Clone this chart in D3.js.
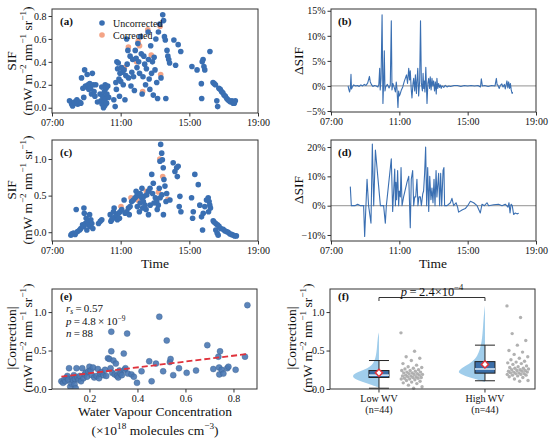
<!DOCTYPE html>
<html><head><meta charset="utf-8">
<script src="https://cdn.jsdelivr.net/npm/d3@7"></script>
<style>body{margin:0;background:#fff}svg{display:block;font-family:"Liberation Serif","Times New Roman",serif}</style>
</head><body><svg id="c" width="550" height="440"></svg>
<script>
// ---------- DATA ----------
const timeTicks = [7, 11, 15, 19];
// (a) SIF, site 1: [hour, SIF]
const aUncorrected = [
[8.02,0.06],[8.15,0.03],[8.2,0.015],[8.3,0.05],[8.38,0.04],[8.45,0.07],[8.5,0.03],[8.6,0.05],[8.68,0.04],[8.72,0.26],[8.8,0.17],[8.85,0.09],[8.9,0.33],[8.95,0.19],[9.0,0.18],[9.05,0.29],[9.1,0.2],[9.15,0.16],[9.2,0.21],[9.25,0.17],[9.3,0.12],[9.35,0.3],[9.4,0.2],[9.45,0.14],[9.5,0.1],[9.55,0.2],[9.65,0.05],
[9.8,0.12],[9.85,0.06],[9.9,0.18],[9.92,0.03],[9.95,0.1],[10.0,0.0],[10.02,0.05],[10.05,0.14],[10.08,0.02],[10.1,0.2],[10.12,0.08],[10.15,0.17],[10.18,0.04],[10.2,0.12],[10.25,0.19],[10.3,0.09],
[10.6,0.07],[10.68,0.01],[10.72,0.22],[10.75,0.16],[10.78,0.4],[10.82,0.34],[10.86,0.39],[10.9,0.25],[10.93,0.1],[10.96,0.3],[11.0,0.23],
[11.05,0.35],[11.1,0.31],[11.15,0.2],[11.2,0.33],[11.25,0.07],[11.3,0.28],[11.35,0.6],[11.38,0.38],[11.42,0.5],[11.46,0.26],[11.55,0.45],[11.6,0.19],[11.65,0.31],[11.7,0.42],[11.75,0.27],[11.8,0.15],
[11.85,0.5],[11.9,0.43],[11.95,0.35],[12.0,0.56],[12.05,0.4],[12.1,0.3],[12.15,0.62],[12.2,0.47],[12.25,0.12],[12.3,0.27],[12.35,0.45],[12.4,0.38],[12.45,0.2],[12.5,0.34],[12.6,0.66],[12.62,0.42],[12.66,0.25],[12.7,0.16],[12.75,0.54],[12.8,0.3],[12.85,0.4],[12.9,0.11],
[12.95,0.44],[13.0,0.33],[13.05,0.6],[13.1,0.22],[13.15,0.08],[13.2,0.66],[13.28,0.73],[13.35,0.26],[13.45,0.81],[13.5,0.76],[13.55,0.62],[13.6,0.59],[13.63,0.08],[13.7,0.5],[13.75,0.45],[13.8,0.42],[13.85,0.39],
[14.1,0.59],[14.2,0.37],[14.35,0.55],[14.5,0.49],
[15.15,0.36],[15.45,0.33],[15.7,0.21],[15.72,0.08],[15.75,0.4],[15.8,0.42],[15.85,0.36],[15.9,0.33],[16.2,0.49],
[16.38,0.22],[16.45,0.21],[16.52,0.2],[16.6,0.06],[16.65,0.01],[16.72,0.17],[16.8,0.16],[16.88,0.14],[16.95,0.13],[17.02,0.11],[17.1,0.1],[17.18,0.08],[17.25,0.07],[17.32,0.06],[17.4,0.05],[17.48,0.06],[17.55,0.04],[17.62,0.04],[17.68,0.06]
];
const aCorrected = [[11.45,0.53],[11.92,0.4],[12.1,0.54],[12.28,0.14],[12.58,0.68],[12.78,0.46],[13.33,0.29],[12.02,0.58],[13.3,0.71],[11.22,0.35]];
// (b) delta SIF (%), site 1: [hour, %]
const bDelta = [
[8.0,0],[8.05,-0.8],[8.09,-1.2],[8.13,-0.5],[8.17,2.3],[8.2,-0.6],[8.25,-0.2],[8.33,0.2],[8.45,0],[8.55,0.1],[8.65,-0.1],[8.75,0.2],[8.85,0],[8.95,0.3],[9.05,0.1],[9.15,0.6],[9.25,1.9],[9.3,0.8],[9.38,0.2],[9.45,-0.1],[9.55,0.1],[9.65,0],[9.75,-0.2],[9.8,0.3],[9.85,3.5],[9.88,-0.8],[9.93,1.5],[9.99,14.2],[10.04,-3.5],[10.08,0.5],[10.12,7],[10.16,-1],[10.2,-0.2],[10.3,0.3],[10.4,-0.4],[10.47,0.2],[10.53,13],[10.57,-0.8],[10.62,0.5],[10.7,-0.3],[10.77,-1.2],[10.82,0.8],[10.86,-0.5],[10.92,-4.3],[10.96,-1],[11.0,-2],[11.06,-1.5],[11.12,-0.8],[11.2,-0.2],[11.28,0.8],[11.35,1.5],[11.42,2.2],[11.48,0.5],[11.55,3.5],[11.6,1.2],[11.64,3],[11.7,-0.8],[11.74,-2.4],[11.8,0.5],[11.84,1.5],[11.9,-1],[11.94,2.2],[12.0,-1.5],[12.03,0.8],[12.08,3.5],[12.13,-2],[12.19,1],[12.24,13],[12.29,0.5],[12.35,-1],[12.39,2.5],[12.43,-0.5],[12.46,1],[12.5,-1.2],[12.55,3.7],[12.62,-3.5],[12.67,0.5],[12.72,1.5],[12.77,-0.5],[12.81,1.8],[12.86,-0.8],[12.91,1.5],[12.96,0],[13.01,1],[13.06,-1],[13.11,0.8],[13.16,-1.6],[13.2,1.5],[13.25,-0.5],[13.3,0.5],[13.35,-0.3],[13.4,0.2],[13.45,-0.5],[13.5,0],[13.6,-0.3],[13.69,0.1],[13.79,-0.2],[13.9,0],[14.0,-0.1],[14.2,0.1],[14.4,0.1],[14.6,-0.1],[14.8,0.1],[15.0,0],[15.2,0.1],[15.4,0],[15.6,0.1],[15.75,-0.2],[15.8,1.4],[15.86,0],[16.0,0.1],[16.2,-0.1],[16.4,0.1],[16.6,0],[16.68,1.5],[16.72,0.3],[16.76,0.2],[16.85,-0.5],[16.91,0.1],[17.0,0.4],[17.07,-0.2],[17.15,0.3],[17.2,-0.6],[17.25,0.2],[17.3,1],[17.35,-0.4],[17.4,0.8],[17.45,-0.5],[17.5,0.5],[17.55,-0.8],[17.6,-1.5],[17.63,-1.2]
];
// (c) SIF, site 2
const cUncorrected = [
[8.1,-0.04],[8.16,-0.02],[8.26,-0.01],[8.35,-0.03],[8.41,0.31],[8.49,0.01],[8.61,0.03],[8.68,0.05],[8.78,0.1],[8.84,0.08],[8.86,0.33],[8.88,0.26],[8.94,0.12],[8.99,0.19],[9.03,0.03],[9.07,0.15],[9.13,0.1],[9.19,0.24],[9.23,0.08],[9.26,0.17],[9.32,0.12],[9.38,0.05],
[9.71,0.12],[9.81,0.15],[9.9,0.17],
[10.39,0.24],[10.43,0.15],[10.48,0.17],[10.54,0.19],[10.58,0.28],[10.62,0.33],[10.68,0.21],[10.77,0.24],[10.81,0.17],[10.87,0.26],[10.93,0.19],[10.97,0.28],[11.06,0.31],
[11.2,0.44],[11.26,0.26],[11.35,0.28],[11.45,0.33],[11.5,0.24],[11.55,0.35],[11.64,0.42],[11.74,0.44],
[11.84,0.47],[11.9,0.56],[11.93,0.49],[11.97,0.35],[12.03,0.51],[12.09,0.28],[12.13,0.53],[12.14,0.4],[12.23,0.47],[12.24,0.6],[12.28,0.33],[12.32,0.42],[12.36,0.49],[12.42,0.37],[12.48,0.31],[12.52,0.51],[12.61,0.56],[12.62,0.24],[12.71,0.6],[12.72,0.37],[12.81,0.79],[12.86,0.53],[12.9,0.67],[12.94,0.4],
[13.02,0.47],[13.1,0.42],[13.13,0.31],[13.19,0.37],[13.25,0.6],[13.29,0.97],[13.3,0.47],[13.33,1.2],[13.39,1.08],[13.4,0.51],[13.43,0.99],[13.48,0.88],[13.49,0.24],[13.52,0.72],[13.58,0.63],[13.64,0.42],[13.68,0.53],
[13.87,0.44],[14.06,0.95],[14.16,0.83],[14.26,0.88],[14.3,0.76],[14.35,0.9],[14.41,0.35],[14.45,0.49],[14.51,0.28],
[15.13,0.47],[15.19,0.19],[15.23,0.28],[15.32,0.79],[15.52,0.65],[15.61,0.37],[15.71,0.21],[15.77,0.03],[15.81,0.26],[15.9,0.35],[16.0,0.44],[16.1,0.47],[16.12,0.28],[16.15,0.42],[16.19,0.37],[16.23,0.33],
[16.39,0.155],[16.44,0.14],[16.54,0.12],[16.54,0.03],[16.62,-0.01],[16.64,0.1],[16.68,-0.04],[16.73,0.08],[16.83,0.05],[16.97,0.04],[17.06,0.02],[17.16,0.01],[17.26,0.0],[17.35,-0.02],[17.45,-0.03],[17.55,-0.04],[17.64,-0.05],[17.74,-0.05]
];
const cCorrected = [[13.28,1.0],[13.45,0.76],[11.02,0.35],[12.05,0.43],[13.2,0.55],[12.5,0.56],[11.6,0.47],[13.75,0.45]];
// (d) delta SIF (%), site 2
const dDelta = [
[8.13,6.5],[8.19,0],[8.4,0],[8.56,0.5],[8.72,0],[8.91,0],[8.97,-10.5],[9.11,9],[9.2,0],[9.34,-6],[9.42,21],[9.5,0],[9.6,19],[9.89,0],[10.08,0],[10.18,-6],[10.24,0],[10.53,16],[10.61,-2],[10.73,12.5],[10.77,0],[10.8,8],[10.84,2],[10.9,12],[10.96,0],[11.0,5],[11.06,3],[11.1,13],[11.16,0],[11.25,3],[11.45,8],[11.55,10],[11.64,-7.5],[11.7,9],[11.78,12],[11.84,0],[11.9,3],[11.96,3],[12.03,9],[12.09,0],[12.15,3],[12.23,3],[12.29,0],[12.37,4],[12.42,5],[12.48,11],[12.54,20],[12.6,0],[12.66,13],[12.72,-2],[12.78,10],[12.85,2],[12.91,6],[12.97,1],[13.03,9],[13.09,0],[13.15,12],[13.2,3],[13.3,11],[13.36,0],[13.42,11],[13.48,0],[13.56,12],[13.61,13],[13.65,0],[13.79,0],[13.99,1],[14.08,2.5],[14.18,0],[14.32,1],[14.41,-0.5],[14.47,-2.2],[14.67,-1.5],[14.86,-1],[15.0,0],[15.16,1.5],[15.35,1],[15.55,0],[15.74,-2.5],[15.84,0.5],[15.98,0],[16.13,1],[16.23,0],[16.52,0.3],[16.81,0.5],[17.01,0],[17.2,0.5],[17.36,-0.5],[17.42,1],[17.48,-2.5],[17.54,0.5],[17.61,0],[17.69,-3],[17.79,-2.5],[17.89,-2.8],[17.99,-2.6]
];
// (e) |Correction| vs water vapour (x10^18 molecules cm^-3)
const eWV = [
[0.083,0.10],[0.09,0.08],[0.095,0.12],[0.1,0.10],[0.105,0.15],[0.108,0.17],[0.112,0.12],[0.115,0.27],[0.12,0.03],[0.125,0.07],[0.128,0.14],[0.132,0.11],[0.135,0.18],[0.138,0.06],[0.14,0.13],[0.143,0.01],[0.146,0.27],[0.15,0.15],[0.155,0.12],[0.16,0.17],[0.165,0.10],[0.17,0.27],[0.175,0.14],[0.18,0.19],[0.185,0.21],[0.19,0.16],[0.195,0.23],[0.2,0.29],[0.205,0.24],[0.21,0.18],[0.215,0.28],[0.22,0.15],[0.23,0.17],[0.235,0.26],[0.24,0.14],[0.245,0.2],[0.25,0.22],[0.258,0.18],[0.265,0.25],[0.27,0.17],[0.277,0.40],[0.283,0.39],[0.288,0.27],[0.291,0.49],[0.291,0.745],[0.295,0.21],[0.3,0.37],[0.305,0.19],[0.31,0.33],[0.315,0.17],[0.32,0.15],[0.325,0.24],[0.33,0.2],[0.335,0.18],[0.343,0.46],[0.347,0.25],[0.35,0.27],[0.357,0.72],[0.36,0.2],[0.375,0.19],[0.385,0.16],[0.398,0.08],
[0.417,0.23],[0.449,0.36],[0.459,0.10],[0.477,0.33],[0.491,0.94],[0.507,0.23],[0.522,0.63],[0.535,0.35],[0.538,0.39],[0.549,0.18],[0.573,0.27],[0.605,0.21],[0.644,0.24],[0.691,0.57],[0.716,0.26],[0.737,0.42],[0.74,0.28],[0.741,0.19],[0.744,0.49],[0.751,0.25],[0.758,0.2],[0.774,0.27],[0.779,0.29],[0.809,0.25],[0.848,0.42],[0.858,1.09]
];
const eFitX = [0.083, 0.858];
const eFitY = [0.16, 0.455];
const eTicksX = [0.2, 0.4, 0.6, 0.8];
const corrTicksY = [0.0, 0.5, 1.0];
// (f) groups
const fGroups = ["Low WV", "High WV"];
const fCounts = [44, 44];
const fLow = [0.73,0.49,0.42,0.40,0.37,0.33,0.31,0.29,0.28,0.27,0.26,0.25,0.24,0.24,0.23,0.22,0.22,0.21,0.21,0.20,0.20,0.19,0.19,0.18,0.18,0.17,0.17,0.16,0.16,0.15,0.15,0.14,0.14,0.13,0.13,0.12,0.11,0.10,0.09,0.08,0.07,0.05,0.03,0.01];
const fHigh = [1.08,0.93,0.72,0.63,0.57,0.50,0.48,0.45,0.42,0.40,0.38,0.36,0.35,0.34,0.33,0.32,0.30,0.29,0.28,0.27,0.27,0.26,0.25,0.25,0.24,0.24,0.23,0.23,0.22,0.22,0.21,0.21,0.20,0.20,0.19,0.19,0.18,0.18,0.17,0.16,0.15,0.13,0.11,0.10];
// box stats: [whiskerLow, q1, median, q3, whiskerHigh, mean]
const fBoxLow = [0.01, 0.15, 0.18, 0.24, 0.37, 0.21];
const fBoxHigh = [0.107, 0.206, 0.26, 0.356, 0.57, 0.32];
// violin half-profiles: [value, relative density]
const fViolinLow = [[0.02,0],[0.05,0.25],[0.09,0.6],[0.13,0.9],[0.17,1.0],[0.21,0.85],[0.25,0.55],[0.29,0.32],[0.34,0.2],[0.4,0.13],[0.48,0.09],[0.56,0.07],[0.64,0.05],[0.7,0.03],[0.735,0]];
const fViolinHigh = [[0.09,0],[0.13,0.35],[0.17,0.75],[0.21,1.0],[0.25,0.95],[0.3,0.72],[0.36,0.45],[0.43,0.28],[0.52,0.18],[0.62,0.12],[0.72,0.09],[0.82,0.07],[0.92,0.05],[1.0,0.03],[1.085,0]];

// ---------- DRAW ----------
const svg = d3.select("#c");
const BLUE = "#3a6fb2", SALMON = "#f4a486", FRAME = "#333";
const TS = "\u2009"; // thin space
const fmtTime = h => (h < 10 ? "0" : "") + h + ":00";
const fmtPct = v => (v < 0 ? "\u2212" + (-v) : v) + "%";
const fmtDec = v => v.toFixed(1);

function panel(l, t, r, b, xd, yd) {
  const x = d3.scaleLinear().domain(xd).range([l, r]);
  const y = d3.scaleLinear().domain(yd).range([b, t]);
  const g = svg.append("g");
  return {x, y, g, l, t, r, b};
}
function styleAxis(sel) {
  sel.select(".domain").remove();
  sel.selectAll(".tick line").attr("stroke", FRAME);
  sel.selectAll(".tick text").attr("font-family", "Liberation Serif").attr("font-size", 10).attr("fill", "#111");
}
function axes(p, xt, xf, yt, yf) {
  if (xt) p.g.append("g").attr("transform", `translate(0,${p.b})`)
    .call(d3.axisBottom(p.x).tickValues(xt).tickFormat(xf).tickSize(3.5).tickPadding(2)).call(styleAxis);
  p.g.append("g").attr("transform", `translate(${p.l},0)`)
    .call(d3.axisLeft(p.y).tickValues(yt).tickFormat(yf).tickSize(3.5).tickPadding(2)).call(styleAxis);
}
function frame(p) {
  svg.append("rect").attr("x", p.l).attr("y", p.t).attr("width", p.r - p.l).attr("height", p.b - p.t)
    .attr("fill", "none").attr("stroke", FRAME).attr("stroke-width", 1);
}
function clip(p, id) {
  svg.append("clipPath").attr("id", id).append("rect").attr("x", p.l).attr("y", p.t).attr("width", p.r - p.l).attr("height", p.b - p.t);
  return `url(#${id})`;
}
function richText(parent, parts, size, supK = 0.42, subK = 0.25) {
  const t = parent.append("text").attr("font-size", size).attr("fill", "#111");
  let shift = 0;
  parts.forEach(pt => {
    const s = t.append("tspan").text(pt.t);
    if (pt.i) s.attr("font-style", "italic");
    if (pt.sup) { s.attr("font-size", size * 0.68).attr("dy", -size * supK - shift); shift = -size * supK; }
    else if (pt.sub) { s.attr("font-size", size * 0.68).attr("dy", size * subK - shift); shift = size * subK; }
    else { if (shift) s.attr("dy", -shift); shift = 0; }
  });
  return t;
}
const unitParts = [{t:"(mW m"},{t:"\u22122",sup:1},{t:" nm"},{t:"\u22121",sup:1},{t:" sr"},{t:"\u22121",sup:1},{t:")"}];
function yLabel(x, cy, parts, size) {
  const g = svg.append("g").attr("transform", `translate(${x},${cy}) rotate(-90)`);
  richText(g, parts, size).attr("text-anchor", "middle");
}
function label(x, y, txt) {
  svg.append("text").attr("x", x).attr("y", y).attr("font-size", 11).attr("font-weight", "bold").attr("fill", "#111").text(txt);
}
function scatter(p, data, color, r, cp) {
  p.g.append("g").attr("clip-path", cp).selectAll("circle").data(data).join("circle")
    .attr("cx", d => p.x(d[0])).attr("cy", d => p.y(d[1])).attr("r", r).attr("fill", color);
}
function deltaLine(p, data, cp) {
  p.g.append("line").attr("x1", p.l).attr("x2", p.r).attr("y1", p.y(0)).attr("y2", p.y(0))
    .attr("stroke", "#a8a8a8").attr("stroke-width", 1.2);
  p.g.append("path").datum(data).attr("clip-path", cp)
    .attr("d", d3.line().x(d => p.x(d[0])).y(d => p.y(d[1])))
    .attr("fill", "none").attr("stroke", BLUE).attr("stroke-width", 1.1).attr("stroke-linejoin", "round");
}

// (a)
const pA = panel(52, 9, 258, 113, [7, 19], [-0.046, 0.861]);
const cpA = clip(pA, "ca");
axes(pA, timeTicks, fmtTime, [0, 0.2, 0.4, 0.6, 0.8], fmtDec);
scatter(pA, aCorrected, SALMON, 2.8, cpA);
scatter(pA, aUncorrected, BLUE, 2.8, cpA);
frame(pA); label(60, 25, "(a)");
[["Uncorrected", BLUE, 23], ["Corrected", SALMON, 35]].forEach(([t, c, yy]) => {
  svg.append("circle").attr("cx", 102).attr("cy", yy).attr("r", 2.8).attr("fill", c);
  svg.append("text").attr("x", 113).attr("y", yy + 3.5).attr("font-size", 10).attr("fill", "#111").text(t);
});
yLabel(16, 61, [{t:"SIF"}], 13.5);
yLabel(32, 61, unitParts, 13.5);

// (b)
const pB = panel(331, 9, 536, 112, [7, 19], [-5.2, 15.35]);
const cpB = clip(pB, "cb");
axes(pB, timeTicks, fmtTime, [-5, 0, 5, 10, 15], fmtPct);
deltaLine(pB, bDelta, cpB);
frame(pB); label(338, 25, "(b)");
yLabel(303, 61, [{t:"\u0394SIF"}], 13.5);

// (c)
const pC = panel(52, 140, 258, 241, [7, 19], [-0.12, 1.26]);
const cpC = clip(pC, "cc");
axes(pC, timeTicks, fmtTime, [0, 0.5, 1.0], fmtDec);
scatter(pC, cCorrected, SALMON, 2.8, cpC);
scatter(pC, cUncorrected, BLUE, 2.8, cpC);
frame(pC); label(60, 156, "(c)");
yLabel(16, 190, [{t:"SIF"}], 13.5);
yLabel(32, 190, unitParts, 13.5);
svg.append("text").attr("x", 155).attr("y", 268).attr("text-anchor", "middle").attr("font-size", 13.5).attr("fill", "#111").text("Time");

// (d)
const pD = panel(331, 140, 536, 241, [7, 19], [-12.05, 22.4]);
const cpD = clip(pD, "cd");
axes(pD, timeTicks, fmtTime, [-10, 0, 10, 20], fmtPct);
deltaLine(pD, dDelta, cpD);
frame(pD); label(338, 156, "(d)");
yLabel(303, 190, [{t:"\u0394SIF"}], 13.5);
svg.append("text").attr("x", 433).attr("y", 268).attr("text-anchor", "middle").attr("font-size", 13.5).attr("fill", "#111").text("Time");

// (e)
const pE = panel(52, 289, 257, 389, [0.044, 0.898], [0, 1.3]);
const cpE = clip(pE, "ce");
axes(pE, eTicksX, fmtDec, corrTicksY, fmtDec);
pE.g.append("g").attr("clip-path", cpE).selectAll("circle").data(eWV).join("circle")
  .attr("cx", d => pE.x(d[0])).attr("cy", d => pE.y(d[1])).attr("r", 3)
  .attr("fill", "#4a78b3").attr("fill-opacity", 0.9).attr("stroke", "#3a5f90").attr("stroke-width", 0.4);
pE.g.append("line").attr("x1", pE.x(eFitX[0])).attr("x2", pE.x(eFitX[1])).attr("y1", pE.y(eFitY[0])).attr("y2", pE.y(eFitY[1]))
  .attr("stroke", "#e0323c").attr("stroke-width", 1.8).attr("stroke-dasharray", "6,3");
frame(pE); label(60, 300, "(e)");
const st = svg.append("g").attr("transform", "translate(66,0)");
richText(st, [{t:"r",i:1},{t:"s",sub:1,i:1},{t:TS + "=" + TS + "0.57"}], 11, 0.42, 0.15).attr("y", 312);
richText(st, [{t:"p",i:1},{t:TS + "=" + TS + "4.8" + TS + "\u00d7" + TS + "10"},{t:"\u22129",sup:1}], 11, 0.34).attr("y", 325);
richText(st, [{t:"n",i:1},{t:TS + "=" + TS + "88"}], 11).attr("y", 336.5);
yLabel(16, 338, [{t:"|Correction|"}], 13.5);
yLabel(32, 338, unitParts, 13.5);
svg.append("text").attr("x", 155).attr("y", 416).attr("text-anchor", "middle").attr("font-size", 13.5).attr("fill", "#111").text("Water Vapour Concentration");
richText(svg, [{t:"(\u00d710"},{t:"18",sup:1},{t:" molecules cm"},{t:"\u22123",sup:1},{t:")"}], 13.5)
  .attr("x", 155).attr("y", 435).attr("text-anchor", "middle");

// (f)
const pF = panel(330, 289, 535, 389, [-0.462, 1.472], [0, 1.3]);
axes(pF, null, null, corrTicksY, fmtDec);
const fData = [fLow, fHigh], fBox = [fBoxLow, fBoxHigh], fViol = [fViolinLow, fViolinHigh];
fGroups.forEach((name, gi) => {
  const cx = pF.x(gi);
  pF.g.append("line").attr("x1", cx).attr("x2", cx).attr("y1", pF.b).attr("y2", pF.b + 3.5).attr("stroke", FRAME);
  svg.append("text").attr("x", cx).attr("y", 402).attr("text-anchor", "middle").attr("font-size", 10).attr("fill", "#111").text(name);
  svg.append("text").attr("x", cx).attr("y", 413).attr("text-anchor", "middle").attr("font-size", 10).attr("fill", "#111").text(`(n=${fCounts[gi]})`);
  pF.g.append("path").datum(fViol[gi])
    .attr("d", d3.area().y(d => pF.y(d[0])).x0(d => cx - d[1] * 27).x1(cx).curve(d3.curveBasis))
    .attr("fill", "#8fc4e8").attr("fill-opacity", 0.85);
  pF.g.selectAll(null).data(fData[gi]).join("circle")
    .attr("cx", (d, i) => cx + 22 + ((i * 0.618034) % 1) * 22).attr("cy", d => pF.y(d))
    .attr("r", 1.7).attr("fill", "#a3a3a3").attr("fill-opacity", 0.85);
  const [wl, q1, md, q3, wh, mn] = fBox[gi];
  const bw = 10;
  pF.g.append("line").attr("x1", cx).attr("x2", cx).attr("y1", pF.y(wl)).attr("y2", pF.y(wh)).attr("stroke", "#222").attr("stroke-width", 1);
  [wl, wh].forEach(v => pF.g.append("line").attr("x1", cx - bw).attr("x2", cx + bw).attr("y1", pF.y(v)).attr("y2", pF.y(v)).attr("stroke", "#222").attr("stroke-width", 1));
  pF.g.append("rect").attr("x", cx - bw).attr("width", 2 * bw).attr("y", pF.y(q3)).attr("height", pF.y(q1) - pF.y(q3))
    .attr("fill", "#3b6ea8").attr("stroke", "#222").attr("stroke-width", 1);
  pF.g.append("line").attr("x1", cx - bw).attr("x2", cx + bw).attr("y1", pF.y(md)).attr("y2", pF.y(md)).attr("stroke", "#d6e8f7").attr("stroke-width", 1.6);
  pF.g.append("path").attr("d", d3.symbol(d3.symbolSquare, 26)())
    .attr("transform", `translate(${cx},${pF.y(mn)}) rotate(45)`)
    .attr("fill", "#fff").attr("stroke", "#e0323c").attr("stroke-width", 1.5);
});
frame(pF); label(338, 300, "(f)");
const bx0 = pF.x(0), bx1 = pF.x(1);
svg.append("path").attr("d", `M${bx0},301V297.5H${bx1}V301`).attr("fill", "none").attr("stroke", "#333").attr("stroke-width", 1);
richText(svg, [{t:"p",i:1},{t:TS + "=" + TS + "2.4\u00d710"},{t:"\u22124",sup:1}], 12.5).attr("x", (bx0 + bx1) / 2).attr("y", 295.5).attr("text-anchor", "middle");
yLabel(296, 338, [{t:"|Correction|"}], 13.5);
yLabel(312, 338, unitParts, 13.5);
</script></body></html>
